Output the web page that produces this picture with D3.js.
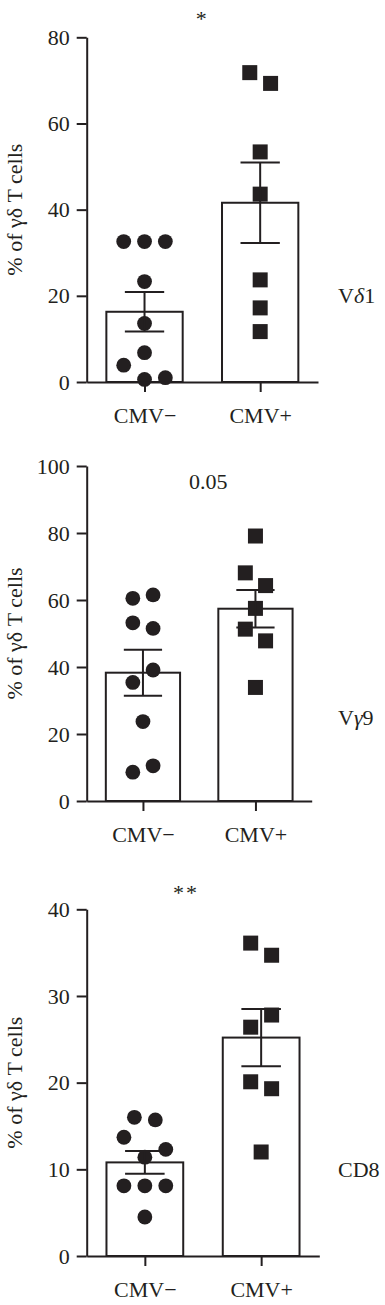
<!DOCTYPE html>
<html>
<head>
<meta charset="utf-8">
<script src="https://cdn.jsdelivr.net/npm/d3@7"></script>
<style>
  body { margin: 0; background: #fff; }
  text { font-family: "Liberation Serif", "DejaVu Serif", serif; fill: #231f20; }
</style>
</head>
<body>
<script>
const svgWidth = 385
const svgHeight = 1305

// data
const groups = ["CMV−", "CMV+"]
const panelNames = ["Vδ1", "Vγ9", "CD8"]
const sigLabels = ["*", "0.05", "**"]
const yMax = [80, 100, 40]
const yTickStep = [20, 20, 10]
const means = [[16.3, 41.6], [38.3, 57.4], [10.8, 25.2]]
const sems = [[4.6, 9.35], [6.85, 5.6], [1.3, 3.3]]

const negValues = [
  [32.6, 32.6, 32.6, 23.3, 13.6, 6.8, 3.9, 0.6, 1.0],
  [60.5, 61.5, 53.2, 51.5, 39.1, 35.4, 23.7, 8.6, 10.5],
  [16.0, 15.7, 13.7, 12.3, 11.4, 8.1, 8.1, 8.1, 4.5]
]
const negSlots = [
  [-1, 0, 1, 0, 0, 0, -1, 0, 1],
  [-0.5, 0.5, -0.5, 0.5, 0.5, -0.5, 0, -0.5, 0.5],
  [-0.5, 0.5, -1, 1, 0, -1, 0, 1, 0]
]
const posValues = [
  [71.8, 69.3, 53.4, 43.6, 23.7, 17.2, 11.7],
  [79.1, 68.1, 64.3, 57.5, 51.3, 47.8, 33.9],
  [36.1, 34.7, 27.8, 26.4, 20.1, 19.3, 12.0]
]
const posSlots = [
  [-0.5, 0.5, 0, 0, 0, 0, 0],
  [0, -0.5, 0.5, 0, -0.5, 0.5, 0],
  [-0.5, 0.5, 0.5, -0.5, -0.5, 0.5, 0]
]

// layout of each panel
const layout = [
  { top: 37.3, bottom: 382, right: 318, sigDx: -1, sigV: 85 },
  { top: 466, bottom: 801, right: 311.7, sigDx: 9, sigV: 95.5 },
  { top: 909.3, bottom: 1256, right: 319.3, sigDx: -17, sigV: 42.2 }
]
const axisX = 86.7
const ink = "#231f20"

const svg = d3.select("body").append("svg")
  .attr("width", svgWidth)
  .attr("height", svgHeight)

layout.forEach((L, p) => {
  const g = svg.append("g")

  const x = d3.scalePoint()
    .domain(groups)
    .range([axisX, L.right])
    .padding(0.5)
  const step = x.step()

  const y = d3.scaleLinear()
    .domain([0, yMax[p]])
    .range([L.bottom, L.top])

  const barW = step * 0.66
  const capW = step * 0.17
  const slotW = step * 0.18

  // bars
  g.selectAll("rect.bar")
    .data(groups)
    .enter()
    .append("rect")
    .attr("class", "bar")
    .attr("x", d => x(d) - barW / 2)
    .attr("y", (d, i) => y(means[p][i]))
    .attr("width", barW)
    .attr("height", (d, i) => y(0) - y(means[p][i]))
    .attr("fill", "#fff")
    .attr("stroke", ink)
    .attr("stroke-width", 2)

  // points
  g.selectAll("circle")
    .data(negValues[p])
    .enter()
    .append("circle")
    .attr("cx", (d, i) => x(groups[0]) + negSlots[p][i] * slotW)
    .attr("cy", d => y(d))
    .attr("r", 7.4)
    .attr("fill", ink)

  const sq = 15
  g.selectAll("rect.pt")
    .data(posValues[p])
    .enter()
    .append("rect")
    .attr("class", "pt")
    .attr("x", (d, i) => x(groups[1]) + posSlots[p][i] * slotW - sq / 2)
    .attr("y", d => y(d) - sq / 2)
    .attr("width", sq)
    .attr("height", sq)
    .attr("fill", ink)

  // error bars
  groups.forEach((grp, i) => {
    const cx = x(grp)
    const hi = y(means[p][i] + sems[p][i])
    const lo = y(means[p][i] - sems[p][i])
    g.append("line")
      .attr("x1", cx).attr("x2", cx).attr("y1", hi).attr("y2", lo)
      .attr("stroke", ink).attr("stroke-width", 2)
    ;[hi, lo].forEach(yy => {
      g.append("line")
        .attr("x1", cx - capW).attr("x2", cx + capW).attr("y1", yy).attr("y2", yy)
        .attr("stroke", ink).attr("stroke-width", 2)
    })
  })

  // axes
  const yAxis = d3.axisLeft(y)
    .tickValues(d3.range(0, yMax[p] + 1, yTickStep[p]))
    .tickSize(10)
    .tickSizeOuter(0)
    .tickPadding(7)
  const ya = g.append("g")
    .attr("transform", `translate(${axisX},0)`)
    .call(yAxis)

  const xAxis = d3.axisBottom(x)
    .tickSize(10)
    .tickSizeOuter(0)
    .tickPadding(15)
  const xa = g.append("g")
    .attr("transform", `translate(0,${L.bottom})`)
    .call(xAxis)

  ;[ya, xa].forEach(a => {
    a.selectAll("path, line").attr("stroke", ink).attr("stroke-width", 2)
    a.selectAll("text")
      .attr("font-family", "Liberation Serif, serif")
      .attr("font-size", 22)
      .attr("fill", ink)
  })

  // y label
  g.append("text")
    .attr("transform", `translate(22,${(L.top + L.bottom) / 2}) rotate(-90)`)
    .attr("text-anchor", "middle")
    .attr("font-size", 22)
    .text("% of γδ T cells")

  // significance
  const mid = (x(groups[0]) + x(groups[1])) / 2
  g.append("text")
    .attr("x", mid + L.sigDx)
    .attr("y", y(L.sigV) + (sigLabels[p] === "0.05" ? 7.5 : 10))
    .attr("text-anchor", "middle")
    .attr("font-size", 22)
    .attr("letter-spacing", sigLabels[p] === "**" ? 2 : 0)
    .text(sigLabels[p])

  // panel name
  const nm = g.append("text")
    .attr("x", 338)
    .attr("y", y(yMax[p] * 0.25) + 7.5)
    .attr("font-size", 22)
  const name = panelNames[p]
  if (name.startsWith("V")) {
    nm.append("tspan").text("V")
    nm.append("tspan").attr("font-style", "italic").text(name[1])
    nm.append("tspan").text(name.slice(2))
  } else {
    nm.text(name)
  }
})
</script>
</body>
</html>
